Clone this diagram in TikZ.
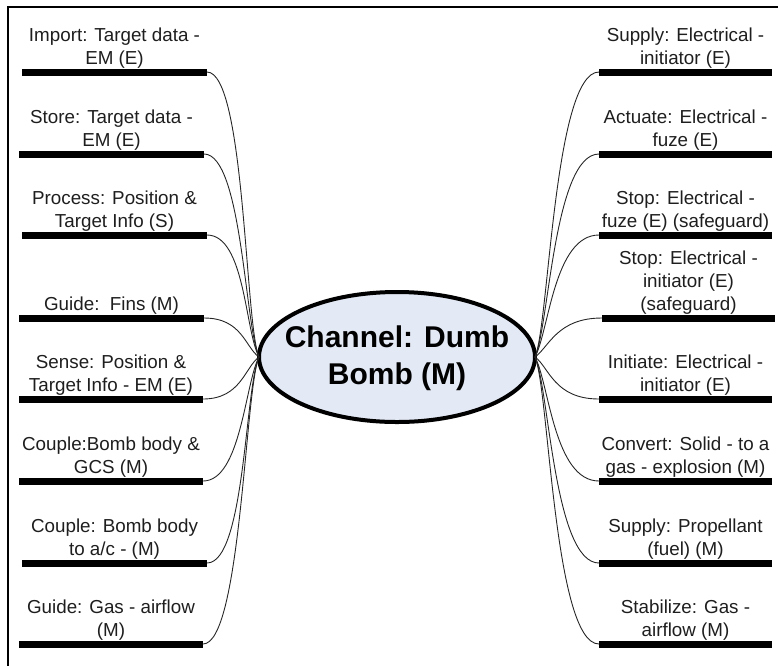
\documentclass[tikz,border=0pt]{standalone}
\usepackage{fontspec}
\setmainfont{Liberation Sans}
\usetikzlibrary{shapes.geometric}
\definecolor{fillblue}{RGB}{227,233,245}
\definecolor{txt}{RGB}{30,30,30}
\begin{document}
\begin{tikzpicture}[x=1pt,y=-1pt,
  barnode/.style={fill=black, draw=none, minimum height=7pt, inner sep=0pt, outer sep=0pt},
  lbl/.style={anchor=south, align=center, inner sep=0pt, font=\fontsize{18.8}{23}\selectfont, text=txt},
  link/.style={line width=0.9pt, draw=black!85},
  hub/.style={ellipse, draw=black, line width=4pt, fill=fillblue, minimum width=276pt, minimum height=130pt, inner sep=0pt, outer sep=0pt},
  hubtext/.style={align=center, inner sep=0pt, font=\fontsize{30}{37}\selectfont\bfseries, text=black}
  ]
\useasboundingbox (0,0) rectangle (778,665);
\draw[line width=2.6pt] (8,680) -- (8,7) -- (790,7);

% centre
\node[hub] (c) at (397,357) {};
\node[hubtext] (ct) at (397,358) {Channel: Dumb\\Bomb (M)};

% left bars
\node[barnode, minimum width=185pt] (L1) at (114.5,72) {};
\node[barnode, minimum width=185pt] (L2) at (111.5,154) {};
\node[barnode, minimum width=185pt] (L3) at (114.5,235) {};
\node[barnode, minimum width=185pt] (L4) at (111.5,318) {};
\node[barnode, minimum width=184pt] (L5) at (111,399) {};
\node[barnode, minimum width=184pt] (L6) at (111,481) {};
\node[barnode, minimum width=185pt] (L7) at (114.5,563) {};
\node[barnode, minimum width=184pt] (L8) at (111,644) {};

% right bars
\node[barnode, minimum width=173pt] (R1) at (685.5,72) {};
\node[barnode, minimum width=173pt] (R2) at (685.5,154) {};
\node[barnode, minimum width=173pt] (R3) at (685.5,235) {};
\node[barnode, minimum width=173pt] (R4) at (688.5,318) {};
\node[barnode, minimum width=173pt] (R5) at (685.5,399) {};
\node[barnode, minimum width=173pt] (R6) at (685.5,481) {};
\node[barnode, minimum width=173pt] (R7) at (685.5,563) {};
\node[barnode, minimum width=173pt] (R8) at (685.5,644) {};

% left labels
\node[lbl] (tL1) at (L1.north) {Import: Target data -\\EM (E)};
\node[lbl] (tL2) at (L2.north) {Store: Target data -\\EM (E)};
\node[lbl] (tL3) at (L3.north) {Process: Position \&\\Target Info (S)};
\node[lbl] (tL4) at (L4.north) {Guide:\ \ Fins (M)};
\node[lbl] (tL5) at (L5.north) {Sense: Position \&\\Target Info - EM (E)};
\node[lbl] (tL6) at (L6.north) {Couple:Bomb body \&\\GCS (M)};
\node[lbl] (tL7) at (L7.north) {Couple: Bomb body\\to a/c - (M)};
\node[lbl] (tL8) at (L8.north) {Guide: Gas - airflow\\(M)};

% right labels
\node[lbl] (tR1) at (R1.north) {Supply: Electrical -\\initiator (E)};
\node[lbl] (tR2) at (R2.north) {Actuate: Electrical -\\fuze (E)};
\node[lbl] (tR3) at (R3.north) {Stop: Electrical -\\fuze (E) (safeguard)};
\node[lbl] (tR4) at (R4.north) {Stop: Electrical -\\initiator (E)\\(safeguard)};
\node[lbl] (tR5) at (R5.north) {Initiate: Electrical -\\initiator (E)};
\node[lbl] (tR6) at (R6.north) {Convert: Solid - to a\\gas - explosion (M)};
\node[lbl] (tR7) at (R7.north) {Supply: Propellant\\(fuel) (M)};
\node[lbl] (tR8) at (R8.north) {Stabilize: Gas -\\airflow (M)};

% connectors left
\draw[link] (L1.east) .. controls +(38,0) and +(-14,-32) .. (c.west);
\draw[link] (L2.east) .. controls +(38,0) and +(-14,-30) .. (c.west);
\draw[link] (L3.east) .. controls +(38,0) and +(-14,-26) .. (c.west);
\draw[link] (L4.east) .. controls +(38,0) and +(-14,-10) .. (c.west);
\draw[link] (L5.east) .. controls +(38,0) and +(-14,10) .. (c.west);
\draw[link] (L6.east) .. controls +(38,0) and +(-14,26) .. (c.west);
\draw[link] (L7.east) .. controls +(38,0) and +(-14,30) .. (c.west);
\draw[link] (L8.east) .. controls +(38,0) and +(-14,32) .. (c.west);

% connectors right
\draw[link] (R1.west) .. controls +(-45,0) and +(14,-32) .. (c.east);
\draw[link] (R2.west) .. controls +(-45,0) and +(14,-30) .. (c.east);
\draw[link] (R3.west) .. controls +(-45,0) and +(14,-26) .. (c.east);
\draw[link] (R4.west) .. controls +(-45,0) and +(14,-10) .. (c.east);
\draw[link] (R5.west) .. controls +(-45,0) and +(14,10) .. (c.east);
\draw[link] (R6.west) .. controls +(-45,0) and +(14,26) .. (c.east);
\draw[link] (R7.west) .. controls +(-45,0) and +(14,30) .. (c.east);
\draw[link] (R8.west) .. controls +(-45,0) and +(14,32) .. (c.east);
\end{tikzpicture}
\end{document}
